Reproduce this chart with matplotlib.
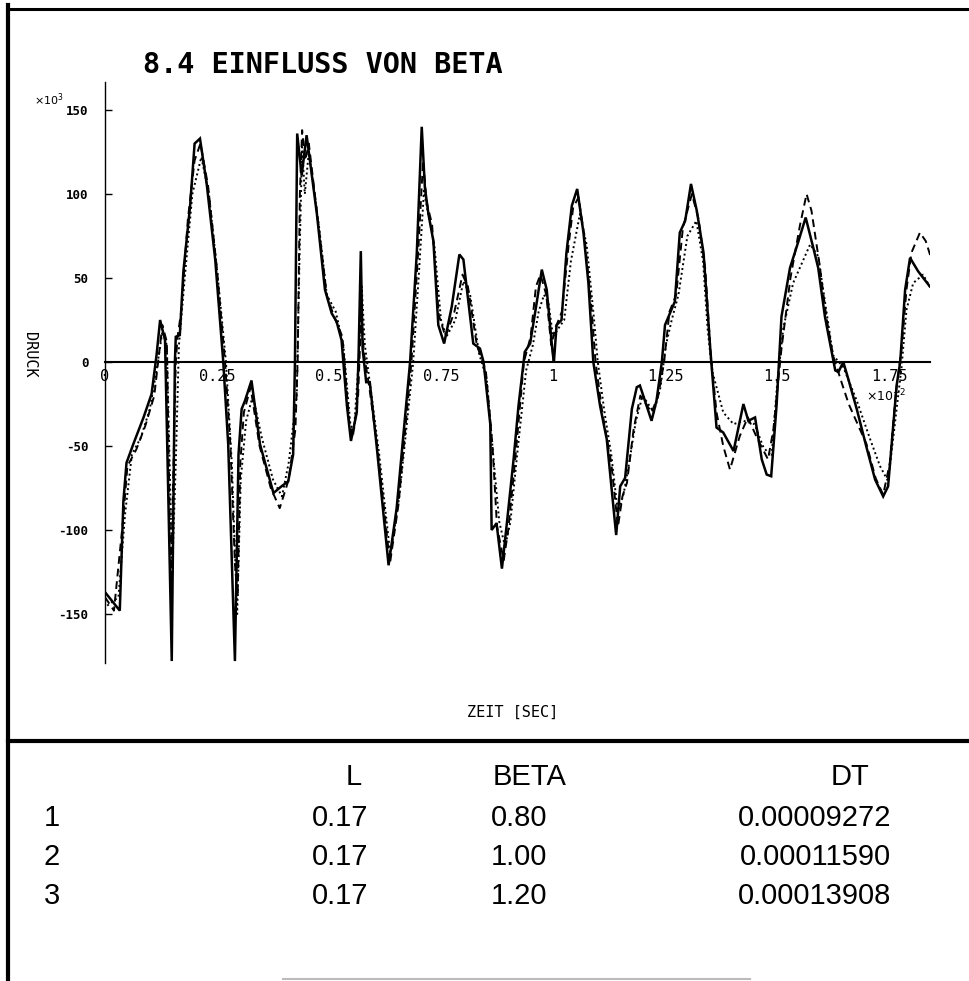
import matplotlib
matplotlib.use("Agg")
import matplotlib.pyplot as plt
from matplotlib.lines import Line2D

# time in 1e-2 s, pressure in 1e3
t_1 = [0.0, 0.015, 0.033, 0.041, 0.048, 0.063, 0.086, 0.104, 0.115, 0.123,
       0.134, 0.149, 0.156, 0.158, 0.167, 0.175, 0.19, 0.2, 0.212, 0.227,
       0.246, 0.264, 0.275, 0.29, 0.298, 0.305, 0.3125, 0.327, 0.346, 0.376,
       0.394, 0.409, 0.42, 0.424, 0.429, 0.439, 0.45, 0.473, 0.491, 0.506,
       0.517, 0.528, 0.54, 0.549, 0.562, 0.566, 0.571, 0.575, 0.583, 0.591,
       0.606, 0.633, 0.651, 0.681, 0.696, 0.707, 0.714, 0.722, 0.733, 0.744,
       0.757, 0.774, 0.791, 0.8, 0.822, 0.837, 0.845, 0.86, 0.863, 0.874,
       0.886, 0.897, 0.912, 0.923, 0.937, 0.949, 0.964, 0.975, 0.986, 0.999,
       1.002, 1.008, 1.019, 1.03, 1.042, 1.054, 1.068, 1.079, 1.09, 1.105,
       1.12, 1.131, 1.141, 1.15, 1.161, 1.176, 1.187, 1.194, 1.22, 1.231,
       1.243, 1.25, 1.272, 1.283, 1.295, 1.308, 1.321, 1.336, 1.351, 1.365,
       1.38, 1.403, 1.425, 1.436, 1.451, 1.466, 1.477, 1.487, 1.499, 1.51,
       1.529, 1.548, 1.564, 1.581, 1.592, 1.607, 1.622, 1.63, 1.637, 1.648,
       1.659, 1.678, 1.7, 1.719, 1.737, 1.748, 1.767, 1.775, 1.786, 1.797,
       1.815, 1.841]
p_1 = [-137, -142, -148, -83, -60, -49, -33, -19, 4, 25,
       13, -178, 0, 15, 16, 54, 93, 130, 133, 106,
       61, 0, -49, -178, -55, -28, -23, -11, -49, -78,
       -74, -71, -55, 0, 136, 111, 135, 88, 43, 29,
       24, 13, -26, -47, -30, 4, 66, 8, -12, -12,
       -49, -121, -87, 0, 65, 140, 104, 88, 72, 22,
       11, 33, 64, 61, 11, 8, 0, -37, -100, -96,
       -123, -96, -58, -26, 6, 11, 36, 55, 43, 6,
       0, 22, 25, 65, 93, 103, 77, 47, 0, -26,
       -46, -76, -103, -74, -69, -28, -15, -14, -35, -23,
       0, 22, 36, 77, 84, 106, 90, 65, 8, -39,
       -42, -53, -25, -35, -33, -58, -67, -68, -26, 27,
       56, 72, 86, 68, 56, 27, 6, -5, -6, 0,
       -10, -28, -51, -70, -80, -74, -14, 0, 43, 62,
       54, 45]

t_2 = [0.0, 0.02, 0.04, 0.05, 0.07, 0.09, 0.11, 0.122, 0.128, 0.138,
       0.147, 0.158, 0.162, 0.17, 0.185, 0.2, 0.213, 0.23, 0.25, 0.268,
       0.28, 0.29, 0.296, 0.302, 0.31, 0.325, 0.345, 0.37, 0.39, 0.41,
       0.425, 0.43, 0.435, 0.44, 0.447, 0.455, 0.475, 0.495, 0.51, 0.53,
       0.545, 0.553, 0.565, 0.572, 0.578, 0.59, 0.61, 0.636, 0.655, 0.684,
       0.70, 0.71, 0.718, 0.73, 0.745, 0.76, 0.78, 0.798, 0.81, 0.83,
       0.85, 0.865, 0.875, 0.89, 0.9, 0.915, 0.935, 0.95, 0.962, 0.972,
       0.985, 0.996, 1.005, 1.02, 1.035, 1.045, 1.057, 1.07, 1.085, 1.095,
       1.11, 1.13, 1.145, 1.155, 1.165, 1.18, 1.195, 1.22, 1.235, 1.248,
       1.26, 1.275, 1.29, 1.31, 1.325, 1.34, 1.352, 1.365, 1.38, 1.395,
       1.417, 1.435, 1.455, 1.48, 1.492, 1.51, 1.53, 1.551, 1.566, 1.577,
       1.595, 1.61, 1.625, 1.644, 1.66, 1.7, 1.72, 1.737, 1.752, 1.765,
       1.778, 1.789, 1.8, 1.819, 1.832, 1.845]
p_2 = [-140, -148, -95, -62, -52, -38, -20, 8, 22, 12,
       -135, 0, 15, 30, 85, 120, 130, 105, 55, 0,
       -50, -120, -140, -60, -30, -15, -50, -75, -87, -70,
       -40, 0, 100, 138, 120, 130, 85, 40, 28, 15,
       -35, -45, -20, 30, 5, -15, -55, -120, -85, 0,
       70, 120, 95, 82, 28, 15, 30, 52, 45, 10,
       -5, -50, -98, -118, -100, -60, 0, 15, 45, 52,
       40, 10, 20, 30, 70, 92, 98, 75, 35, 0,
       -30, -60, -98, -80, -72, -40, -20, -30, -20, 0,
       30, 40, 80, 100, 85, 55, 5, -30, -50, -64,
       -44, -33, -45, -58, -40, 8, 50, 81, 100, 90,
       58, 27, 4, -12, -25, -49, -69, -79, -60, -19,
       8, 43, 65, 77, 72, 61]

t_3 = [0.005, 0.03, 0.045, 0.06, 0.08, 0.1, 0.115, 0.128, 0.138, 0.15,
       0.158, 0.165, 0.178, 0.195, 0.215, 0.232, 0.252, 0.27, 0.283, 0.295,
       0.303, 0.315, 0.33, 0.35, 0.375, 0.395, 0.41, 0.428, 0.434, 0.44,
       0.446, 0.455, 0.478, 0.495, 0.515, 0.532, 0.548, 0.556, 0.566, 0.573,
       0.58, 0.595, 0.612, 0.637, 0.657, 0.688, 0.70, 0.712, 0.72, 0.735,
       0.75, 0.762, 0.782, 0.8, 0.815, 0.835, 0.852, 0.868, 0.88, 0.893,
       0.905, 0.92, 0.94, 0.955, 0.968, 0.98, 0.99, 1.0, 1.012, 1.025,
       1.04, 1.06, 1.075, 1.09, 1.1, 1.115, 1.13, 1.145, 1.158, 1.17,
       1.185, 1.2, 1.225, 1.24, 1.252, 1.265, 1.28, 1.3, 1.32, 1.335,
       1.345, 1.355, 1.38, 1.403, 1.425, 1.45, 1.47, 1.488, 1.5, 1.514,
       1.536, 1.574, 1.592, 1.607, 1.625, 1.648, 1.678, 1.708, 1.73, 1.748,
       1.763, 1.778, 1.789, 1.804, 1.826, 1.841]
p_3 = [-145, -140, -90, -55, -45, -28, -5, 18, 10, -125,
       -60, 10, 50, 100, 122, 100, 50, 0, -60, -150,
       -70, -35, -20, -45, -70, -80, -60, -20, 60, 128,
       100, 125, 80, 40, 30, 10, -38, -40, 0, 45,
       10, -20, -55, -115, -80, 0, 50, 102, 90, 70,
       25, 15, 25, 48, 40, 5, -10, -60, -95, -110,
       -95, -55, -5, 10, 30, 40, 35, 15, 20, 25,
       60, 88, 70, 30, 0, -30, -55, -90, -78, -60,
       -35, -20, -30, -15, 10, 25, 40, 75, 84, 60,
       20, -5, -30, -37, -35, -37, -51, -56, -14, 20,
       47, 70, 63, 36, 4, -3, -23, -46, -62, -71,
       -37, -3, 31, 47, 52, 45]

x_ticks = [0, 0.25, 0.5, 0.75, 1, 1.25, 1.5, 1.75]
x_ticklabels = ["0", "0.25", "0.5", "0.75", "1", "1.25", "1.5", "1.75"]
y_ticks = [-150, -100, -50, 0, 50, 100, 150]
y_ticklabels = ["-150", "-100", "-50", "0", "50", "100", "150"]

run_ids = ["1", "2", "3"]
l_values = ["0.17", "0.17", "0.17"]
beta_values = ["0.80", "1.00", "1.20"]
dt_values = ["0.00009272", "0.00011590", "0.00013908"]

assert len(t_1) == len(p_1) and len(t_2) == len(p_2) and len(t_3) == len(p_3)

W, H = 970, 981
MONO = "DejaVu Sans Mono"
TABLE_FONT = ["Liberation Sans", "DejaVu Sans"]


def fx(x):
    return x / W


def fy(y):
    return 1 - y / H


fig = plt.figure(figsize=(W / 100, H / 100), dpi=100)

# axes: y axis at px 105, x axis from 105 to 930, y from 82 to 663
ax = fig.add_axes([fx(105), fy(663), (930 - 105) / W, (663 - 82) / H])
ax.set_xlim(0, (930 - 105) / 448)
ax.set_ylim((362 - 663) / 1.68, (362 - 82) / 1.68)

ax.plot(t_1, p_1, color="black", lw=1.8, solid_joinstyle="miter")
ax.plot(t_2, p_2, color="black", lw=1.4, dashes=(4, 2.5))
ax.plot(t_3, p_3, color="black", lw=1.4, linestyle=(0, (1, 1.5)))

for s in ["top", "right"]:
    ax.spines[s].set_visible(False)
ax.spines["bottom"].set_position(("data", 0))
ax.spines["bottom"].set_linewidth(1.5)
ax.spines["left"].set_linewidth(1.0)

ax.set_xticks(x_ticks)
ax.set_xticklabels(x_ticklabels, family=MONO, fontsize=11)
ax.tick_params(axis="x", length=0, pad=5)
ax.set_yticks(y_ticks)
ax.set_yticklabels(y_ticklabels, family=MONO, fontsize=9, fontweight="bold")
ax.tick_params(axis="y", direction="in", length=5, width=1, pad=12)

# axis annotations
fig.text(fx(34), fy(100), r"$\times10^{3}$", fontsize=8, ha="left", va="center")
fig.text(fx(866), fy(396), r"$\times10^{-2}$", fontsize=9, ha="left", va="center")
fig.text(fx(30), fy(355), "DRUCK", rotation=-90, family=MONO, fontsize=11,
         ha="center", va="center")
fig.text(fx(513), fy(712), "ZEIT [SEC]", family=MONO, fontsize=11,
         ha="center", va="center")

fig.text(fx(143), fy(65), "8.4 EINFLUSS VON BETA", family=MONO,
         fontweight="bold", fontsize=20.5, ha="left", va="center")

# frame lines of the sheet
fig.add_artist(Line2D([fx(8), fx(8)], [0, fy(5)], color="black", lw=3))
fig.add_artist(Line2D([fx(8), 1], [fy(9), fy(9)], color="black", lw=2.2))
fig.add_artist(Line2D([fx(8), 1], [fy(741), fy(741)], color="black", lw=3))
fig.add_artist(Line2D([fx(283), fx(750)], [fy(979), fy(979)], color="#bbbbbb", lw=1.5))

# parameter table
fig.text(fx(354), fy(777), "L", family=TABLE_FONT, fontsize=21, ha="center", va="center")
fig.text(fx(530), fy(777), "BETA", family=TABLE_FONT, fontsize=21, ha="center", va="center")
fig.text(fx(850), fy(777), "DT", family=TABLE_FONT, fontsize=21, ha="center", va="center")
row_y = [818, 857, 896]
for i in range(3):
    fig.text(fx(44), fy(row_y[i]), run_ids[i], family=TABLE_FONT, fontsize=21,
             ha="left", va="center")
    fig.text(fx(340), fy(row_y[i]), l_values[i], family=TABLE_FONT, fontsize=21,
             ha="center", va="center")
    fig.text(fx(519), fy(row_y[i]), beta_values[i], family=TABLE_FONT, fontsize=21,
             ha="center", va="center")
    fig.text(fx(815), fy(row_y[i]), dt_values[i], family=TABLE_FONT, fontsize=21,
             ha="center", va="center")

fig.savefig("out.png", dpi=100)
